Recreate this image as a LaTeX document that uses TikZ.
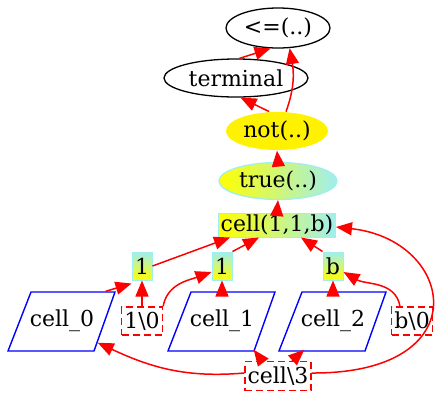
\documentclass[tikz,border=0pt]{standalone}
\usepackage{fontspec}
\setmainfont{DejaVu Serif}
\usetikzlibrary{shapes.geometric,arrows.meta}
\definecolor{pcyan}{RGB}{160,238,238}
\begin{document}
\begin{tikzpicture}[x=1pt,y=1pt,
  lbl/.style={font=\fontsize{22}{24}\selectfont,inner sep=0pt},
  ell/.style={lbl,ellipse,line width=1.3pt},
  gradbox/.style={lbl,rectangle,draw=pcyan,line width=1pt},
  parabox/.style={lbl,rectangle,minimum width=107pt,minimum height=59pt},
  paraline/.style={draw=blue,fill=white,line width=1.4pt},
  dbox/.style={lbl,rectangle,draw=red,dash pattern=on 7pt off 4pt,line width=1.3pt,
    minimum width=41pt,minimum height=28pt},
  edge/.style={red,line width=1.5pt,-{Triangle[length=16pt,width=13pt]}}
]
\useasboundingbox (0,0) rectangle (439,-392);
% parallelogram outlines
\foreach \p/\x in {c0/62,c1/222,c2/333}{
  \path[paraline] (\x-54,-351) -- (\x+32,-351) -- (\x+53,-292) -- (\x-31,-292) -- cycle;
}
% nodes
\node[ell,draw,minimum width=104pt,minimum height=40pt] (le) at (278,-28) {<=(..)};
\node[ell,draw,minimum width=144pt,minimum height=38pt] (term) at (236,-78) {terminal};
\node[ell,fill=yellow,minimum width=102pt,minimum height=38pt] (nt) at (277,-131) {not(..)};
\node[ell,draw=pcyan,left color=yellow,right color=pcyan,minimum width=118pt,minimum height=37pt] (tr) at (278,-181) {true(..)};
\node[gradbox,left color=yellow,right color=pcyan,minimum width=117pt,minimum height=24pt] (cell) at (277,-225) {cell(1,1,b)};
\node[gradbox,top color=pcyan,bottom color=yellow,minimum width=20pt,minimum height=28pt] (oa) at (142,-266) {1};
\node[gradbox,top color=pcyan,bottom color=yellow,minimum width=20pt,minimum height=28pt] (ob) at (222,-266) {1};
\node[gradbox,top color=pcyan,bottom color=yellow,minimum width=20pt,minimum height=28pt] (bb) at (333,-266) {b};
\node[parabox] (c0) at (62,-321) {cell\_0};
\node[dbox] (oz) at (142,-321) {1\textbackslash 0};
\node[parabox] (c1) at (222,-321) {cell\_1};
\node[parabox] (c2) at (333,-321) {cell\_2};
\node[dbox] (bz) at (412,-321) {b\textbackslash 0};
\node[dbox,minimum width=66pt,minimum height=29pt] (c3) at (278,-376) {cell\textbackslash 3};
% edges
\draw[edge] (term.80) -- (le.250);
\draw[edge] (nt.112) -- (term.283);
\draw[edge] (nt.65) to[out=70,in=-80] (le.300);
\draw[edge] (tr.north) -- (nt.south);
\draw[edge] (cell.north) -- (tr.south);
\draw[edge] (oa.east) -- ([xshift=12pt]cell.south west);
\draw[edge] (ob.north east) -- ([xshift=-18pt]cell.south);
\draw[edge] (bb.north west) -- ([xshift=24pt]cell.south);
\draw[edge] ([yshift=3pt]c3.east) .. controls (480,-374) and (455,-240) .. ([yshift=-2pt]cell.east);
\draw[edge] ([xshift=-10pt]c0.north east) -- ([yshift=-3pt]oa.south west);
\draw[edge] (oz.north) -- (oa.south);
\draw[edge] (oz.north east) to[out=80,in=200] ([yshift=-6pt]ob.west);
\draw[edge] (c1.north) -- (ob.south);
\draw[edge] (c2.north) -- (bb.south);
\draw[edge] ([xshift=-12pt]bz.north) to[out=100,in=-30] ([yshift=-6pt]bb.east);
\draw[edge] ([yshift=3pt]c3.west) to[out=185,in=-25] ([xshift=-18pt,yshift=8pt]c0.south east);
\draw[edge] ([xshift=-16pt]c3.north) -- ([xshift=-22pt,yshift=1pt]c1.south east);
\draw[edge] ([xshift=14pt]c3.north) -- ([xshift=25pt,yshift=1pt]c2.south west);
\end{tikzpicture}
\end{document}
